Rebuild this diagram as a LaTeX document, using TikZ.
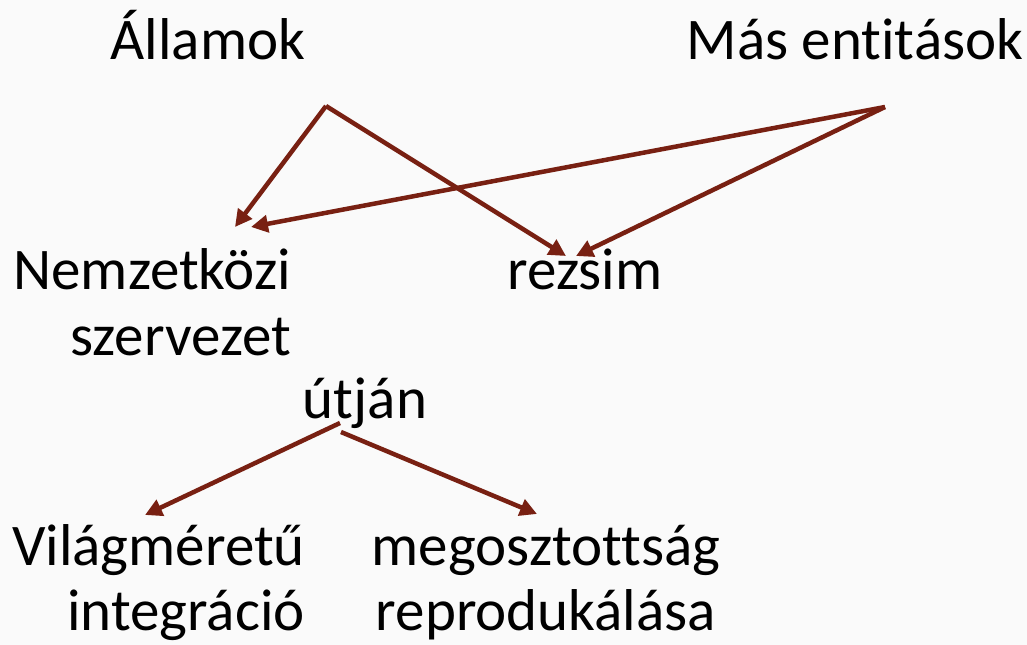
\documentclass[tikz,border=0pt]{standalone}
\usepackage{fontspec}
\setmainfont[Ligatures=NoCommon]{Carlito}
\usetikzlibrary{arrows.meta}
\definecolor{arrowred}{RGB}{120,32,18}
\definecolor{bgcol}{RGB}{250,250,250}
\begin{document}
\begin{tikzpicture}[x=1bp,y=-1bp,
  lbl/.style={inner sep=0pt,font=\fontsize{59bp}{65bp}\selectfont},
  conn/.style={draw=arrowred,line width=4.5bp,-{Triangle[length=17bp,width=17bp]}}]
\fill[bgcol] (0,0) rectangle (1027,645);
\useasboundingbox (0,0) rectangle (1027,645);
\node[lbl,anchor=base] (allamok) at (208,60) {Államok};
\node[lbl,anchor=base] (mas) at (855,60) {Más entitások};
\node[lbl,anchor=base east,align=right] (nemz) at (291,355) {Nemzetközi\\szervezet};
\node[lbl,anchor=base] (rezsim) at (585,290) {rezsim};
\node[lbl,anchor=base] (utjan) at (365,418) {útján};
\node[lbl,anchor=base east,align=right] (vilag) at (305,630) {Világméretű\\integráció};
\node[lbl,anchor=base,align=center] (megoszt) at (546,630) {megosztottság\\reprodukálása};
\coordinate (a1) at (326,106);
\coordinate (a2) at (885,107);
\coordinate (t1) at (235,227);
\coordinate (t2) at (251,227);
\coordinate (t3) at (566,256);
\coordinate (t4) at (576,256);
\coordinate (u1) at (340,423);
\coordinate (u2) at (341,432);
\coordinate (t5) at (145,515);
\coordinate (t6) at (537,514);
\draw[conn] (a1) -- (t1);
\draw[conn] (a1) -- (t3);
\draw[conn] (a2) -- (t2);
\draw[conn] (a2) -- (t4);
\draw[conn] (u1) -- (t5);
\draw[conn] (u2) -- (t6);
\end{tikzpicture}
\end{document}
